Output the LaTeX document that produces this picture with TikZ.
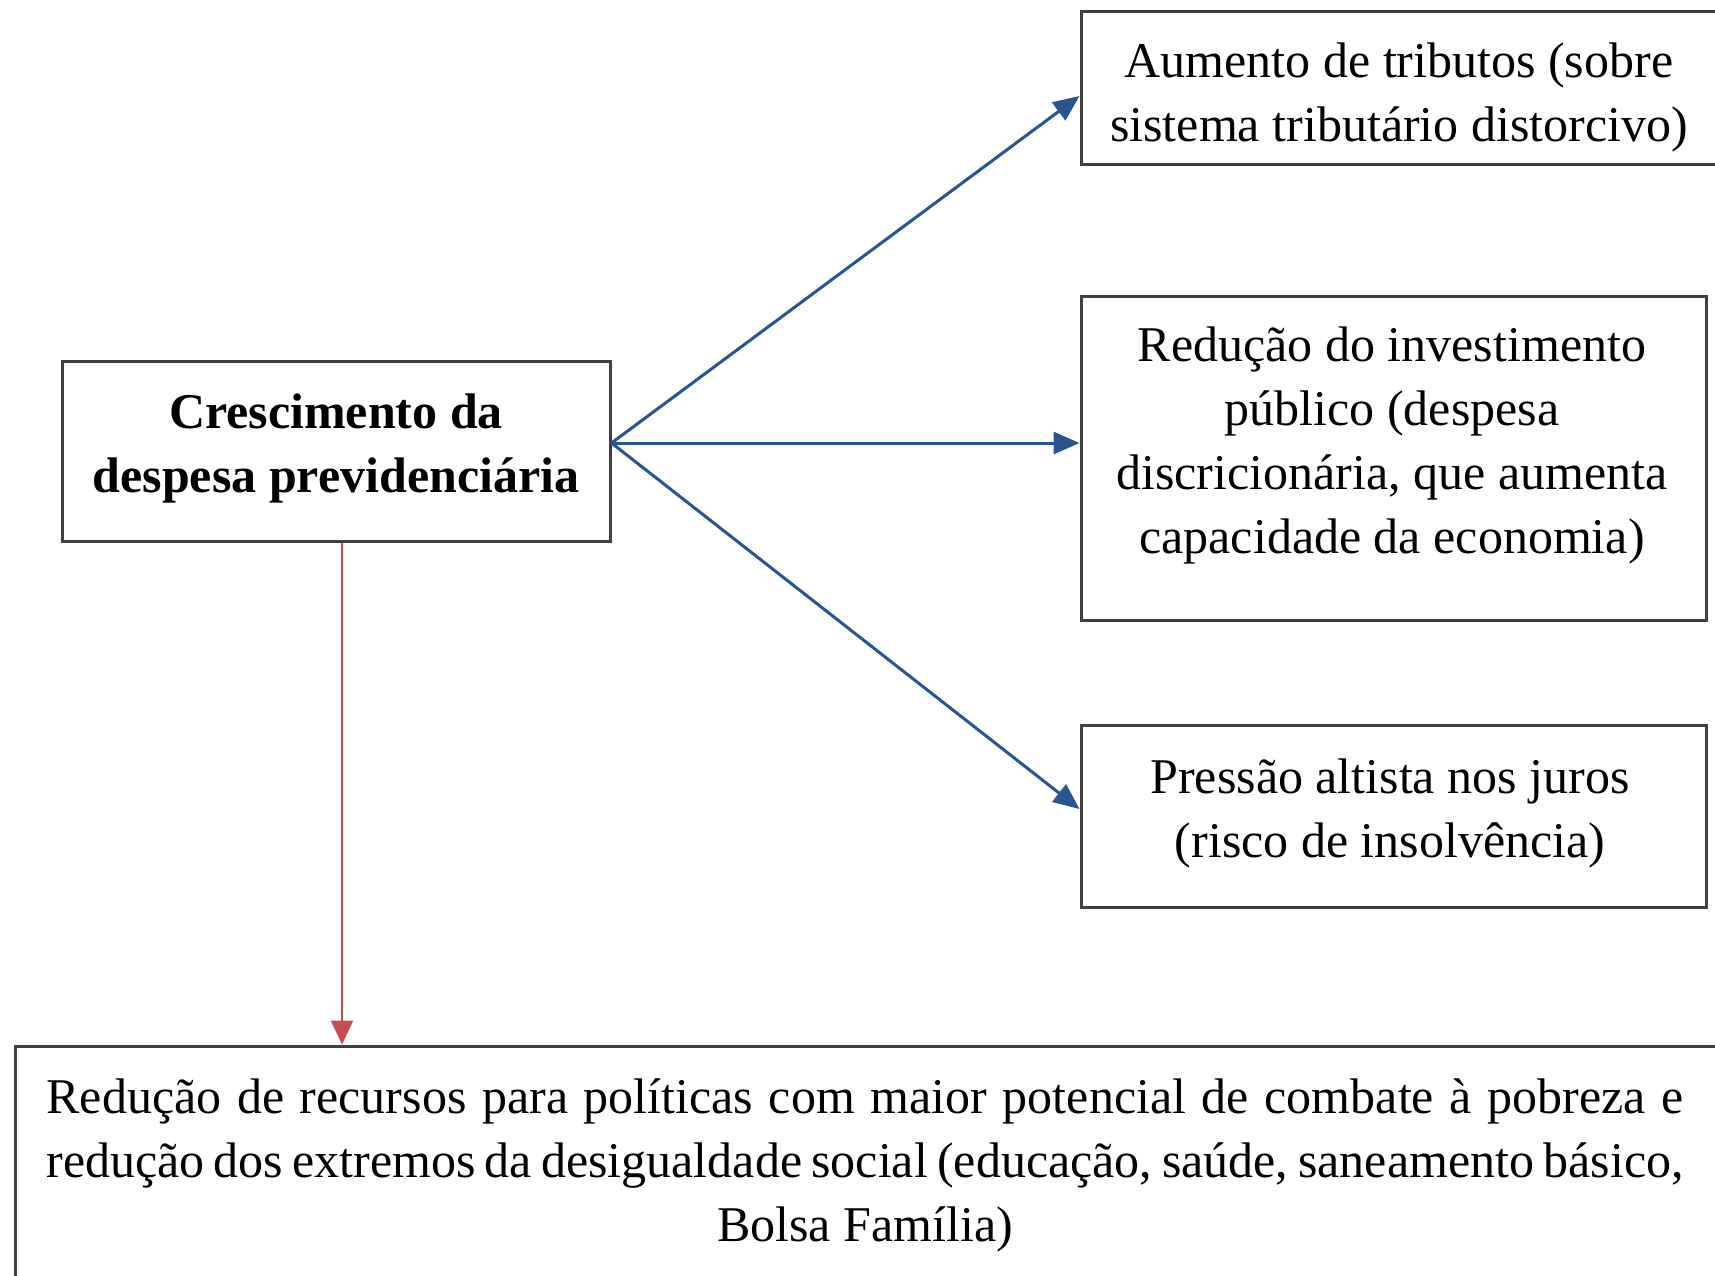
\documentclass[tikz,border=0pt]{standalone}
\usepackage{fontspec}
\setmainfont{Liberation Serif}
\usetikzlibrary{arrows.meta}
\definecolor{boxline}{RGB}{64,64,64}
\definecolor{arrblue}{RGB}{40,85,145}
\definecolor{arrred}{RGB}{200,75,80}
\begin{document}
\begin{tikzpicture}[x=1pt,y=-1pt,
  boxshape/.style={draw=boxline, line width=3pt, rectangle, inner sep=0pt, fill=white},
  txt/.style={font=\fontsize{50}{64}\selectfont, align=center, inner sep=0pt},
  bluearrow/.style={draw=arrblue, line width=3pt, -{Triangle[length=26pt,width=22pt]}},
  redarrow/.style={draw=arrred, line width=2pt, -{Triangle[length=24pt,width=22pt]}}]
\useasboundingbox (0,0) rectangle (1715,1275);
\clip (0,0) rectangle (1715,1275);
\fill[white] (0,0) rectangle (1715,1275);
% boxes
\node[boxshape, minimum width=548pt, minimum height=180pt] (lbox) at (336,451) {};
\node[boxshape, minimum width=639pt, minimum height=153pt] (tbox) at (1400.5,87.5) {};
\node[boxshape, minimum width=625pt, minimum height=324pt] (mbox) at (1393.5,458) {};
\node[boxshape, minimum width=625pt, minimum height=182pt] (rbox) at (1393.5,816) {};
\node[boxshape, minimum width=1710pt, minimum height=254pt] (bbox) at (870,1173) {};
% texts
\node[txt, font=\fontsize{50}{64}\selectfont\bfseries] (tl) at (336,448) {Crescimento da\\despesa previdenciária};
\node[txt] (t1) at (1399,97) {Aumento de tributos (sobre\\sistema tributário distorcivo)};
\node[txt] (t2) at (1392,445) {Redução do investimento\\público (despesa\\discricionária, que aumenta\\capacidade da economia)};
\node[txt] (t3) at (1390,813) {Pressão altista nos juros\\(risco de insolvência)};
\node[txt] (tb) at (865,1165) {\makebox[1637pt][s]{Redução de recursos para políticas com maior potencial de combate à pobreza e}\\\makebox[1637pt][s]{redução dos extremos da desigualdade social (educação, saúde, saneamento básico,}\\Bolsa Família)};
% connectors
\coordinate (bstart) at ([yshift=8pt]lbox.east);
\draw[bluearrow] (bstart) -- ([yshift=-8.5pt]tbox.west);
\draw[bluearrow] (bstart) -- (bstart -| mbox.west);
\draw[bluearrow] (bstart) -- ([yshift=7pt]rbox.west);
\coordinate (rstart) at ([xshift=6pt]lbox.south);
\draw[redarrow] (rstart) -- (rstart |- bbox.north);
\end{tikzpicture}
\end{document}
